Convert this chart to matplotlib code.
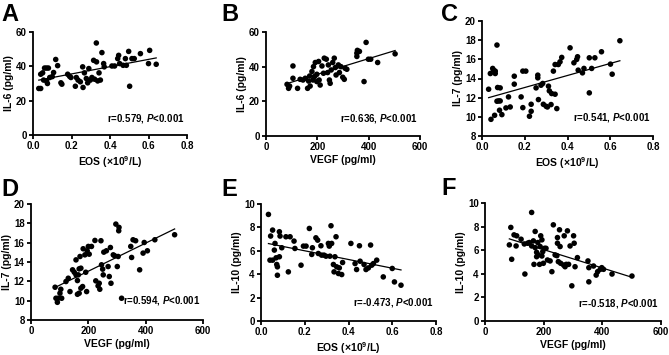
import numpy as np
import matplotlib
matplotlib.use('Agg')
import matplotlib.pyplot as plt

plt.rcParams['font.family'] = 'Liberation Sans'
plt.rcParams['font.weight'] = 'bold'
plt.rcParams['mathtext.fontset'] = 'custom'
plt.rcParams['mathtext.rm'] = 'Liberation Sans:bold'
plt.rcParams['mathtext.it'] = 'Liberation Sans:italic:bold'
plt.rcParams['mathtext.bf'] = 'Liberation Sans:bold'

# A: EOS vs IL-6
a_x = [0.03, 0.04, 0.04, 0.05, 0.06, 0.07, 0.08, 0.055, 0.07, 0.075, 0.087, 0.107, 0.118,
       0.128, 0.10, 0.145, 0.15, 0.18, 0.19, 0.197, 0.225, 0.22, 0.234, 0.246, 0.258, 0.26,
       0.267, 0.277, 0.284, 0.29, 0.298, 0.306, 0.315, 0.32, 0.329, 0.33, 0.336, 0.343, 0.35,
       0.358, 0.367, 0.37, 0.41, 0.424, 0.44, 0.445, 0.45, 0.468, 0.48, 0.485, 0.497, 0.502,
       0.514, 0.526, 0.558, 0.60, 0.606, 0.64]
a_y = [27.1, 27.1, 35.4, 36.2, 39, 39, 39, 32, 31.5, 30, 33.5, 36.4, 44,
       40.4, 34, 30.4, 29.6, 35.4, 34.2, 33.5, 33.5, 28.4, 32, 31, 39.7, 27.7,
       36.2, 32.9, 30.4, 38.7, 32, 33.5, 43.5, 32.5, 53.6, 42.6, 31.5, 36.2, 32,
       48, 41.6, 39.7, 40.2, 40.2, 44.5, 46.4, 41.6, 40.6, 44.5, 40.6, 48.7, 28.4,
       44.5, 44.5, 47.4, 41.6, 49.3, 41.2]

# B: VEGF vs IL-6
b_x = [82, 88, 92, 105, 105, 123, 133, 144, 153, 162, 166, 170, 172, 179, 183, 185, 192,
       189, 198, 205, 207, 198, 211, 218, 224, 227, 235, 240, 243, 247, 250, 254, 260, 266,
       270, 273, 282, 286, 292, 299, 305, 308, 315, 354, 356, 364, 354, 382, 390, 399, 408,
       435, 503]
b_y = [29.8, 27.5, 28.8, 40.4, 33.3, 27.5, 32.7, 32.3, 33.3, 27.5, 31.7, 34.6, 28.8, 37.2,
       32.3, 40, 42.4, 34.3, 35.6, 43, 32.3, 31.4, 29.4, 40.4, 36.2, 44.9, 44.3, 36.6, 41,
       32.3, 30.4, 38.1, 42.4, 44.9, 39.5, 35.2, 41, 36.6, 40, 33.9, 32.7, 39.1, 38.5, 47.8,
       49.4, 48.8, 45.9, 31.4, 54, 44.3, 44.3, 42.4, 47.4]

# C: EOS vs IL-7
c_x = [0.031, 0.042, 0.039, 0.05, 0.054, 0.062, 0.062, 0.07, 0.059, 0.07, 0.078, 0.073,
       0.085, 0.082, 0.093, 0.085, 0.112, 0.124, 0.132, 0.151, 0.151, 0.183, 0.191, 0.191,
       0.205, 0.222, 0.23, 0.23, 0.253, 0.261, 0.261, 0.264, 0.276, 0.284, 0.287, 0.30,
       0.306, 0.311, 0.315, 0.323, 0.326, 0.334, 0.342, 0.342, 0.35, 0.357, 0.365, 0.373,
       0.412, 0.43, 0.443, 0.447, 0.45, 0.47, 0.477, 0.502, 0.502, 0.513, 0.528, 0.559,
       0.601, 0.609, 0.645]
c_y = [12.88, 9.74, 14.52, 15.05, 14.87, 14.52, 14.77, 17.49, 10.16, 11.63, 11.66, 13.06,
       13.02, 10.69, 10.23, 11.66, 10.93, 12.08, 11.03, 13.41, 14.24, 12.08, 10.96, 14.77,
       14.77, 10.06, 10.58, 11.31, 13.02, 14.35, 14.07, 11.8, 13.3, 13.48, 11.31, 11.1,
       11.03, 13.2, 12.71, 11.28, 12.43, 14.77, 15.46, 12.36, 10.86, 15.46, 15.74, 16.2,
       17.2, 15.64, 15.99, 16.27, 14.87, 14.59, 15.05, 16.16, 12.5, 15.05, 16.16, 16.79,
       15.5, 14.45, 17.94]

# D: VEGF vs IL-7
d_x = [84, 87, 92, 95, 101, 104, 107, 122, 130, 136, 145, 151, 157, 157, 162, 165, 168, 171,
       174, 162, 168, 174, 180, 182, 188, 191, 194, 196, 200, 203, 211, 223, 226, 234, 238,
       240, 244, 246, 250, 252, 254, 263, 269, 273, 277, 279, 287, 292, 296, 301, 304, 306,
       307, 316, 348, 351, 356, 365, 379, 391, 395, 406, 432, 501]
d_y = [11.39, 10.25, 9.83, 10.25, 10.77, 11.18, 10.25, 11.98, 12.32, 10.94, 13.19, 12.94,
       14.22, 12.67, 12.08, 12.67, 13.29, 14.57, 13.36, 10.66, 10.77, 11.29, 11.46, 15.37,
       14.74, 12.94, 10.94, 15.16, 15.61, 14.81, 15.61, 16.23, 12.05, 11.53, 11.8, 11.18,
       16.2, 13.71, 13.26, 12.67, 15.02, 15.16, 13.53, 12.5, 15.5, 11.8, 14.74, 14.64,
       17.92, 13.53, 14.57, 17.23, 17.58, 10.25, 15.61, 14.47, 16.3, 16.2, 13.19, 14.92,
       16.02, 15.16, 16.3, 16.82]

# E: EOS vs IL-10
e_x = [0.034, 0.044, 0.053, 0.041, 0.053, 0.064, 0.061, 0.069, 0.072, 0.075, 0.075, 0.084,
       0.084, 0.087, 0.095, 0.114, 0.125, 0.133, 0.151, 0.155, 0.183, 0.194, 0.206, 0.221,
       0.232, 0.235, 0.251, 0.259, 0.262, 0.274, 0.277, 0.288, 0.297, 0.308, 0.312, 0.315,
       0.32, 0.323, 0.331, 0.334, 0.338, 0.343, 0.346, 0.354, 0.358, 0.369, 0.373, 0.411,
       0.43, 0.437, 0.45, 0.453, 0.471, 0.48, 0.491, 0.501, 0.506, 0.514, 0.529, 0.559,
       0.60, 0.61, 0.64]
e_y = [9.11, 7.26, 7.77, 5.2, 5.2, 6.63, 6.06, 5.4, 4.83, 4.63, 3.91, 5.49, 7.63, 7.26, 6.26,
       7.2, 4.2, 7.2, 6.83, 6.2, 4.77, 6.4, 6.4, 7.91, 5.69, 6.26, 7.11, 6.91, 5.77, 6.43,
       5.63, 5.63, 5.54, 6.63, 6.4, 5.54, 8.14, 6.63, 4.83, 4.2, 5.49, 7.2, 4.63, 4.06, 4.54,
       3.97, 5.0, 6.63, 4.91, 4.4, 6.43, 5.11, 4.83, 4.4, 4.54, 6.49, 4.77, 4.91, 5.2, 3.77,
       4.49, 3.34, 3.06]

# F: VEGF vs IL-10
f_x = [88, 83, 91, 99, 106, 108, 123, 134, 136, 145, 151, 159, 159, 165, 167, 171, 171, 176,
       176, 180, 182, 186, 188, 190, 194, 194, 197, 199, 203, 208, 213, 222, 228, 233, 239,
       245, 247, 247, 250, 254, 256, 258, 268, 270, 273, 277, 281, 285, 290, 296, 302, 304,
       307, 315, 351, 354, 354, 370, 379, 384, 393, 398, 404, 433, 501]
f_y = [7.93, 6.45, 5.23, 7.3, 6.36, 7.22, 6.93, 6.53, 3.98, 6.59, 6.65, 9.2, 6.36, 6.79, 4.8,
       7.59, 6.22, 5.82, 5.45, 6.65, 5.6, 4.8, 6.31, 7.22, 6.88, 5.51, 5.88, 4.89, 6.16, 6.16,
       5.17, 5.09, 4.18, 8.15, 5.6, 5.54, 6.59, 7.07, 5.03, 7.73, 6.31, 4.89, 4.74, 7.22, 4.6,
       4.8, 7.64, 4.8, 6.36, 2.98, 7.22, 6.59, 4.6, 5.37, 5.09, 3.32, 4.52, 4.66, 3.89, 4.18,
       4.38, 4.52, 4.38, 3.98, 3.81]

eos_label = 'EOS (×10$^{9}$/L)'
vegf_label = 'VEGF (pg/ml)'

panels = [
    # letter, x, y, xlabel, ylabel, xlim, xticks, ylim, yticks, stat text, box (l, r, top, bottom px), text y, letter pos
    ('A', a_x, a_y, eos_label, 'IL-6 (pg/ml)', (0, 0.8), [0, 0.2, 0.4, 0.6, 0.8],
     (0, 60), [0, 20, 40, 60], 'r=0.579, $P$<0.001', (33, 187, 32, 135), 0.165, (1, 3)),
    ('B', b_x, b_y, vegf_label, 'IL-6 (pg/ml)', (0, 600), [0, 200, 400, 600],
     (0, 60), [0, 20, 40, 60], 'r=0.636, $P$<0.001', (266, 420, 32, 136), 0.165, (221, 3)),
    ('C', c_x, c_y, eos_label, 'IL-7 (pg/ml)', (0, 0.8), [0, 0.2, 0.4, 0.6, 0.8],
     (8, 20), [8, 10, 12, 14, 16, 18, 20], 'r=0.541, $P$<0.001', (482, 653, 21, 136), 0.165, (441, 3)),
    ('D', d_x, d_y, vegf_label, 'IL-7 (pg/ml)', (0, 600), [0, 200, 400, 600],
     (8, 20), [8, 10, 12, 14, 16, 18, 20], 'r=0.594, $P$<0.001', (31, 203, 204, 320), 0.165, (1, 178)),
    ('E', e_x, e_y, eos_label, 'IL-10 (pg/ml)', (0, 0.8), [0, 0.2, 0.4, 0.6, 0.8],
     (0, 10), [0, 2, 4, 6, 8, 10], 'r=-0.473, $P$<0.001', (261, 436, 204, 321), 0.155, (221, 178)),
    ('F', f_x, f_y, vegf_label, 'IL-10 (pg/ml)', (0, 600), [0, 200, 400, 600],
     (0, 10), [0, 2, 4, 6, 8, 10], 'r=-0.518, $P$<0.001', (485, 661, 203, 321), 0.15, (441, 177)),
]

W, H = 669, 355
fig = plt.figure(figsize=(W / 100, H / 100), dpi=100)

for letter, x, y, xl, yl, xlim, xt, ylim, yt, stat, box, ty, lp in panels:
    l, r, t, b = box
    ax = fig.add_axes([l / W, 1 - b / H, (r - l) / W, (b - t) / H])
    x = np.array(x)
    y = np.array(y)
    ax.scatter(x, y, s=16, color='black', edgecolors='none', zorder=3, clip_on=False)
    k, c = np.polyfit(x, y, 1)
    xx = np.array([x.min(), x.max()])
    ax.plot(xx, k * xx + c, color='black', lw=0.9, zorder=2)
    ax.set_xlim(xlim)
    ax.set_ylim(ylim)
    ax.set_xticks(xt)
    ax.set_yticks(yt)
    if xlim[1] < 1:
        ax.set_xticklabels(['%.1f' % v for v in xt])
    for s in ['top', 'right']:
        ax.spines[s].set_visible(False)
    for s in ['left', 'bottom']:
        ax.spines[s].set_linewidth(1.3)
    ax.tick_params(width=1.3, length=3, labelsize=7, pad=1.5)
    ax.set_xlabel(xl, fontsize=7.5, fontweight='bold', labelpad=2)
    ax.set_ylabel(yl, fontsize=7.5, fontweight='bold', labelpad=1.5)
    ax.text(0.985, ty, stat, transform=ax.transAxes, ha='right', va='center',
            fontsize=7, fontweight='bold')
    fig.text(lp[0] / W, 1 - lp[1] / H, letter, fontsize=17, fontweight='bold',
             ha='left', va='top')

fig.savefig('out.png', dpi=100)
